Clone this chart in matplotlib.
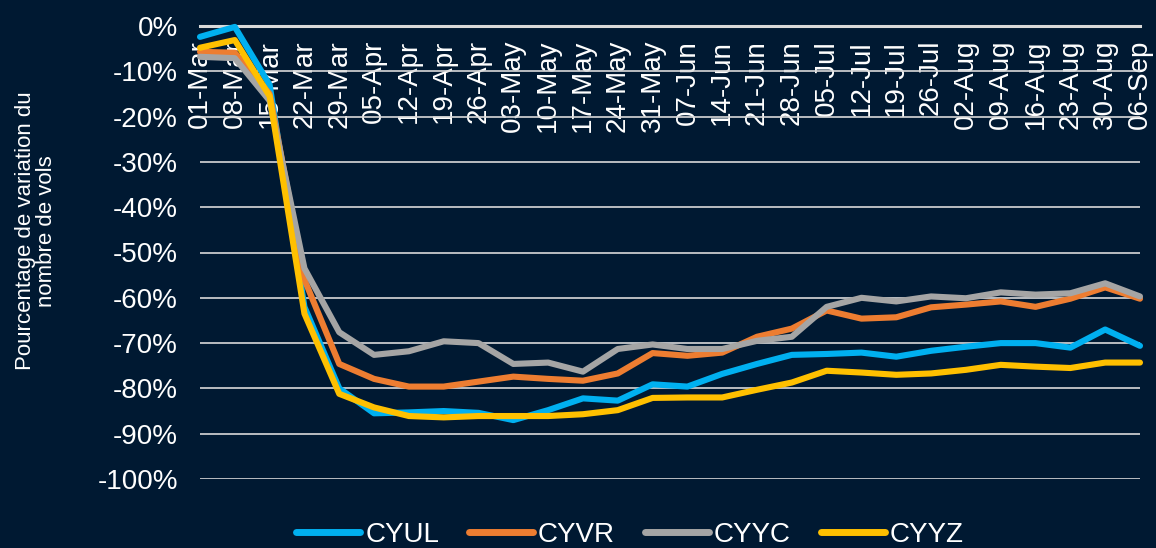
import matplotlib.pyplot as plt

dates = ['01-Mar', '08-Mar', '15-Mar', '22-Mar', '29-Mar', '05-Apr', '12-Apr', '19-Apr',
         '26-Apr', '03-May', '10-May', '17-May', '24-May', '31-May', '07-Jun', '14-Jun',
         '21-Jun', '28-Jun', '05-Jul', '12-Jul', '19-Jul', '26-Jul', '02-Aug', '09-Aug',
         '16-Aug', '23-Aug', '30-Aug', '06-Sep']

cyul = [-2.4, -0.2, -13, -62, -80, -85.5, -85.3, -85, -85.4, -87, -84.8, -82.2, -82.7, -79.1,
        -79.6, -76.8, -74.6, -72.6, -72.4, -72.1, -73, -71.7, -70.8, -70, -70, -71, -67, -70.6]
cyvr = [-5.7, -5.9, -15, -56, -74.6, -77.9, -79.6, -79.6, -78.5, -77.4, -77.9, -78.3, -76.7, -72.2,
        -72.8, -72.1, -68.6, -66.8, -62.8, -64.6, -64.3, -62.1, -61.5, -60.8, -62, -60.2, -57.7, -60.2]
cyyc = [-6.8, -7.1, -16.5, -53.5, -67.6, -72.6, -71.8, -69.6, -70, -74.6, -74.3, -76.3, -71.3, -70.3,
        -71.3, -71.3, -69.5, -68.6, -62, -60, -60.8, -59.7, -60.1, -58.8, -59.3, -59, -56.8, -59.7]
cyyz = [-4.8, -3.1, -15.5, -63.5, -81.2, -84.2, -86.1, -86.4, -86.1, -86.1, -86.1, -85.7, -84.8, -82.1,
        -82, -82, -80.3, -78.7, -76.1, -76.5, -77, -76.7, -75.9, -74.8, -75.2, -75.5, -74.3, -74.3]

series = [('CYUL', cyul, '#00B0F0'), ('CYVR', cyvr, '#ED7D31'),
          ('CYYC', cyyc, '#A5A5A5'), ('CYYZ', cyyz, '#FFC000')]

bg = '#001932'
plt.rcParams['font.family'] = ['Liberation Sans', 'DejaVu Sans']

fig = plt.figure(figsize=(11.56, 5.48), dpi=100, facecolor=bg)
ax = fig.add_axes([200 / 1156, 1 - 479 / 548, 940 / 1156, 453 / 548])
ax.set_facecolor(bg)

x = list(range(len(dates)))
for name, vals, color in series:
    ax.plot(x, vals, color=color, lw=4.4, label=name,
            solid_joinstyle='round', solid_capstyle='round', clip_on=False, zorder=3)

ax.set_xlim(0, len(dates) - 1)
ax.set_ylim(-100, 0)
ax.set_yticks(range(-100, 1, 10))
ax.set_yticklabels([f'{v}%' for v in range(-100, 1, 10)])
ax.yaxis.grid(True, color='#D9D9D9', lw=1.2)
ax.set_axisbelow(True)

for s in ['left', 'right', 'top']:
    ax.spines[s].set_visible(False)
ax.spines['bottom'].set_position(('data', 0))
ax.spines['bottom'].set_color('#D9D9D9')
ax.spines['bottom'].set_linewidth(2.2)

ax.set_xticks(x)
ax.set_xticklabels(dates, rotation=90, va='top', ha='center')
ax.tick_params(axis='x', length=0, pad=10, labelsize=20, colors='white')
ax.tick_params(axis='y', length=0, pad=16, labelsize=20, colors='white')

fig.text(36 / 1156, 1 - 231 / 548, 'Pourcentage de variation du\nnombre de vols',
         rotation=90, ha='center', va='center', color='white', fontsize=16, linespacing=1.05)

leg = fig.legend(loc='lower center', bbox_to_anchor=(0.545, -0.046), ncol=4, frameon=False,
                 fontsize=20, labelcolor='white', handlelength=2.3, handletextpad=0.18,
                 columnspacing=1.08)
for h in leg.get_lines():
    h.set_linewidth(5)

fig.savefig('out.png', dpi=100, facecolor=bg)
